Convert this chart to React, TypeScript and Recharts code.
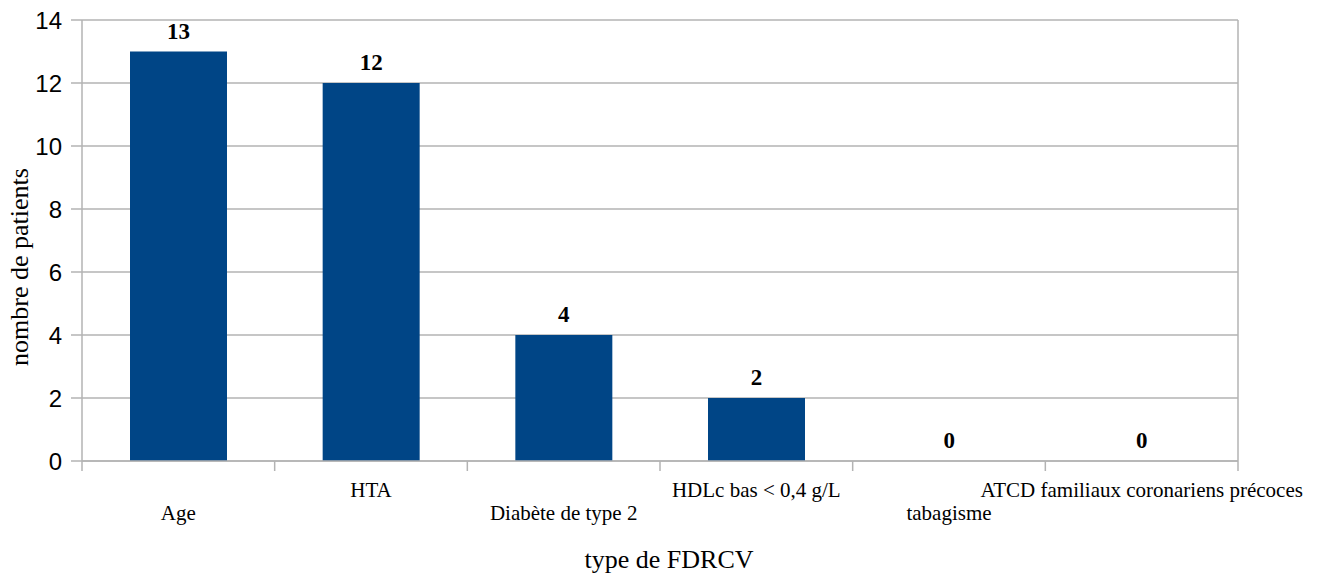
import { BarChart, Bar, XAxis, YAxis, CartesianGrid, LabelList, Label, ReferenceLine } from "recharts";

const categories = [
  "Age",
  "HTA",
  "Diabète de type 2",
  "HDLc bas < 0,4 g/L",
  "tabagisme",
  "ATCD familiaux coronariens précoces",
];
const patients = [13, 12, 4, 2, 0, 0];
const yTicks = [0, 2, 4, 6, 8, 10, 12, 14];
const edgeTicks = [0, 1, 2, 3, 4, 5, 6];

const data = categories.map((name, i) => ({ name, value: patients[i], pos: i + 0.5 }));

const GRID = "#b3b3b3";
const SERIF = "'Liberation Serif', 'Times New Roman', serif";
const SANS = "'Liberation Sans', Arial, sans-serif";

function CategoryTick(props: any) {
  const { x, y, payload, index } = props;
  // labels alternate between two rows, like the original export
  const dy = index % 2 === 0 ? 49 : 26;
  return (
    <text x={x} y={y + dy} textAnchor="middle" style={{ fontFamily: SERIF }} fontSize={21} fill="#000">
      {payload.value}
    </text>
  );
}

function ValueLabel(props: any) {
  const { x, y, width, value } = props;
  return (
    <text
      x={x + width / 2}
      y={y - 13}
      textAnchor="middle"
      style={{ fontFamily: SERIF, fontWeight: "bold" }}
      fontSize={23}
      fill="#000"
    >
      {value}
    </text>
  );
}

export default function App() {
  return (
    <div style={{ position: "absolute", left: 0, top: 0, background: "#fff" }}>
      <BarChart width={1321} height={579} data={data} margin={{ top: 20, right: 83, left: 0, bottom: 0 }}>
        <CartesianGrid vertical={false} xAxisId="a" stroke={GRID} strokeWidth={1.5} />
        <XAxis
          xAxisId="a"
          type="number"
          dataKey="pos"
          domain={[0, 6]}
          ticks={edgeTicks}
          height={10}
          tickSize={10}
          tickFormatter={() => ""}
          stroke={GRID}
          axisLine={{ stroke: GRID, strokeWidth: 1.5 }}
          tickLine={{ stroke: GRID, strokeWidth: 1.5 }}
        />
        <XAxis
          xAxisId="b"
          dataKey="name"
          height={108}
          tickSize={0}
          tickMargin={0}
          axisLine={false}
          tickLine={false}
          interval={0}
          tick={<CategoryTick />}
        >
          <Label
            content={() => (
              <text x={669} y={568} textAnchor="middle" style={{ fontFamily: SERIF }} fontSize={26} fill="#000">
                type de FDRCV
              </text>
            )}
          />
        </XAxis>
        <YAxis
          domain={[0, 14]}
          ticks={yTicks}
          width={82}
          tickSize={11}
          tickMargin={9}
          stroke={GRID}
          axisLine={{ stroke: GRID, strokeWidth: 1.5 }}
          tickLine={{ stroke: GRID, strokeWidth: 1.5 }}
          tick={{ fontFamily: SANS, fontSize: 24, fill: "#000" }}
        >
          <Label
            content={() => (
              <text
                transform="translate(28,267) rotate(-90)"
                textAnchor="middle"
                style={{ fontFamily: SERIF }}
                fontSize={26}
                fill="#000"
              >
                nombre de patients
              </text>
            )}
          />
        </YAxis>
        <ReferenceLine xAxisId="a" x={6} stroke={GRID} strokeWidth={1.5} />
        <Bar xAxisId="b" dataKey="value" fill="#004586" barSize={97} minPointSize={0.01} isAnimationActive={false}>
          <LabelList dataKey="value" content={<ValueLabel />} />
        </Bar>
      </BarChart>
    </div>
  );
}
